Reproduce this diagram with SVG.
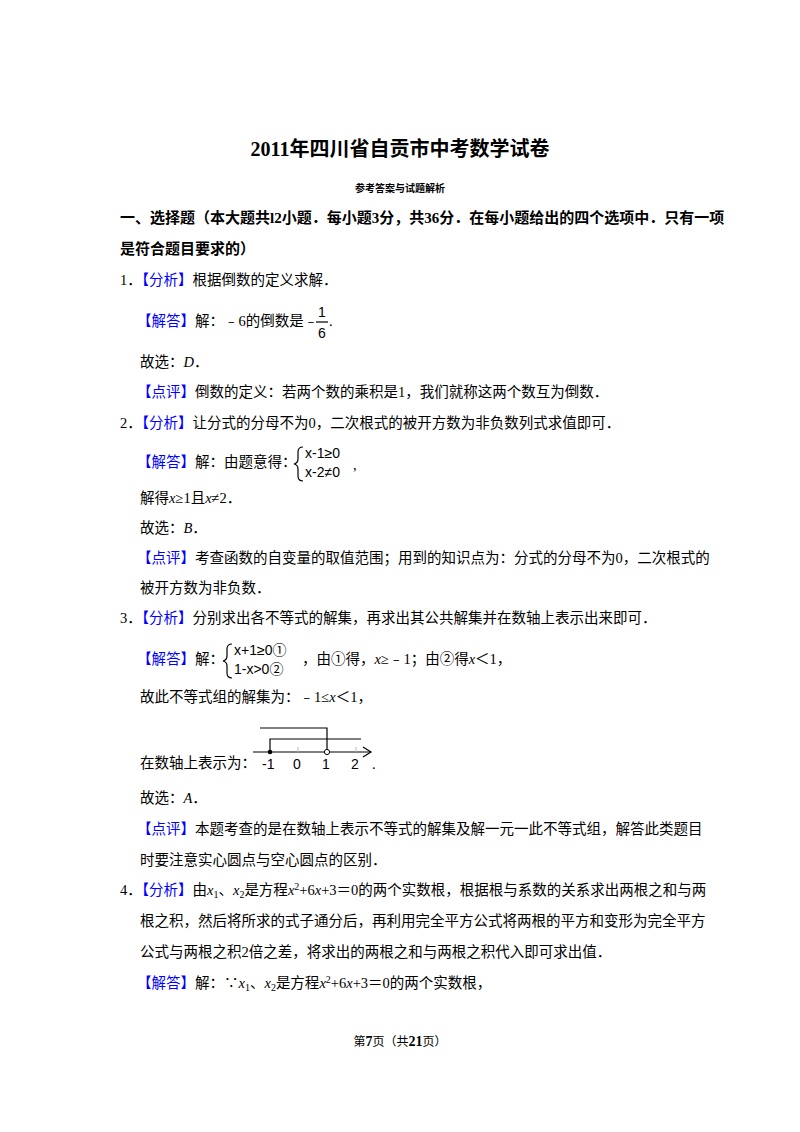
<svg xmlns="http://www.w3.org/2000/svg" width="800" height="1132" viewBox="0 0 800 1132">
<style>
text{font-family:"Liberation Serif","Noto Sans CJK SC",serif;font-size:14.5px;fill:#000}
.b{font-weight:bold}
.k{fill:#0000ff}
.i{font-style:italic}
.s{font-family:"Liberation Sans","Noto Sans CJK SC",sans-serif;font-size:14px}
.ln{stroke:#000;stroke-width:1.2;fill:none}
</style>
<rect width="800" height="1132" fill="#fff"/>
<text x="400" y="156" text-anchor="middle" class="b" style="font-size:20px">2011年四川省自贡市中考数学试卷</text>
<text x="400" y="192" text-anchor="middle" class="b" style="font-size:10px">参考答案与试题解析</text>
<text x="120" y="223" class="b" style="font-size:15px">一、选择题（本大题共l2小题．每小题3分，共36分．在每小题给出的四个选项中．只有一项</text>
<text x="120" y="254" class="b" style="font-size:15px">是符合题目要求的）</text>

<text x="120" y="285">1．<tspan class="k">【分析】</tspan>根据倒数的定义求解．</text>
<text x="137" y="326"><tspan class="k">【解答】</tspan>解：﹣6的倒数是﹣</text>
<text x="318" y="317" class="s">1</text><line x1="316" y1="322" x2="328" y2="322" class="ln" stroke-width="0.8"/><text x="318" y="338" class="s">6</text><text x="329" y="326">.</text>
<text x="140" y="367">故选：<tspan class="i">D</tspan>．</text>
<text x="137" y="397"><tspan class="k">【点评】</tspan>倒数的定义：若两个数的乘积是1，我们就称这两个数互为倒数．</text>

<text x="120" y="428">2．<tspan class="k">【分析】</tspan>让分式的分母不为0，二次根式的被开方数为非负数列式求值即可．</text>
<text x="137" y="467"><tspan class="k">【解答】</tspan>解：由题意得：</text>
<path d="M303,447 Q298,447 298,452 L298,459 Q298,463 294,464 Q298,465 298,469 L298,476 Q298,481 303,481" class="ln"/>
<text x="305" y="458" class="s">x-1≥0</text>
<text x="305" y="477" class="s">x-2≠0</text><text x="353" y="470">,</text>
<text x="140" y="503">解得<tspan class="i">x</tspan>≥1且<tspan class="i">x</tspan>≠2．</text>
<text x="140" y="533">故选：<tspan class="i">B</tspan>．</text>
<text x="137" y="563"><tspan class="k">【点评】</tspan>考查函数的自变量的取值范围；用到的知识点为：分式的分母不为0，二次根式的</text>
<text x="140" y="593">被开方数为非负数．</text>

<text x="120" y="623">3．<tspan class="k">【分析】</tspan>分别求出各不等式的解集，再求出其公共解集并在数轴上表示出来即可．</text>
<text x="137" y="664"><tspan class="k">【解答】</tspan>解：</text>
<path d="M232,644 Q227,644 227,649 L227,656 Q227,660 223,661 Q227,662 227,666 L227,673 Q227,678 232,678" class="ln"/>
<text x="234" y="655" class="s">x+1≥0①</text>
<text x="234" y="674" class="s">1-x&gt;0②</text>
<text x="302" y="664">，由①得，<tspan class="i">x</tspan>≥﹣1；由②得<tspan class="i">x</tspan>＜1，</text>
<text x="140" y="702">故此不等式组的解集为：﹣1≤<tspan class="i">x</tspan>＜1，</text>
<text x="140" y="768">在数轴上表示为：</text>
<g id="numberline">
<line x1="253" y1="752" x2="371" y2="752" class="ln"/>
<path d="M363,747 L371,752 L363,757" class="ln"/>
<line x1="298" y1="747" x2="298" y2="752" stroke="#bbb"/>
<line x1="356" y1="747" x2="356" y2="752" stroke="#bbb"/>
<polyline points="260,728 327,728 327,749" class="ln"/>
<polyline points="270,752 270,739 361,739" class="ln"/>
<circle cx="270" cy="752" r="2.3" fill="#000"/>
<circle cx="327" cy="752" r="2.6" fill="#fff" stroke="#000"/>
<text x="262" y="769" class="s">-1</text><text x="293" y="769" class="s">0</text><text x="322" y="769" class="s">1</text><text x="351" y="769" class="s">2</text>
<text x="372" y="769">.</text>
</g>
<text x="140" y="803">故选：<tspan class="i">A</tspan>．</text>
<text x="137" y="834"><tspan class="k">【点评】</tspan>本题考查的是在数轴上表示不等式的解集及解一元一此不等式组，解答此类题目</text>
<text x="140" y="865">时要注意实心圆点与空心圆点的区别．</text>

<text x="120" y="895">4．<tspan class="k">【分析】</tspan>由<tspan class="i">x</tspan><tspan style="font-size:10px" dy="3">1</tspan><tspan dy="-3">、</tspan><tspan class="i">x</tspan><tspan style="font-size:10px" dy="3">2</tspan><tspan dy="-3">是方程</tspan><tspan class="i">x</tspan><tspan style="font-size:10px" dy="-5">2</tspan><tspan dy="5">+6</tspan><tspan class="i">x</tspan>+3＝0的两个实数根，根据根与系数的关系求出两根之和与两</text>
<text x="140" y="926">根之积，然后将所求的式子通分后，再利用完全平方公式将两根的平方和变形为完全平方</text>
<text x="140" y="957">公式与两根之积2倍之差，将求出的两根之和与两根之积代入即可求出值．</text>
<text x="137" y="988"><tspan class="k">【解答】</tspan>解：∵<tspan class="i">x</tspan><tspan style="font-size:10px" dy="3">1</tspan><tspan dy="-3">、</tspan><tspan class="i">x</tspan><tspan style="font-size:10px" dy="3">2</tspan><tspan dy="-3">是方程</tspan><tspan class="i">x</tspan><tspan style="font-size:10px" dy="-5">2</tspan><tspan dy="5">+6</tspan><tspan class="i">x</tspan>+3＝0的两个实数根，</text>
<text x="400" y="1046" text-anchor="middle" style="font-size:12px">第<tspan class="b" style="font-size:14px">7</tspan>页（共<tspan class="b" style="font-size:14px">21</tspan>页）</text>
</svg>
